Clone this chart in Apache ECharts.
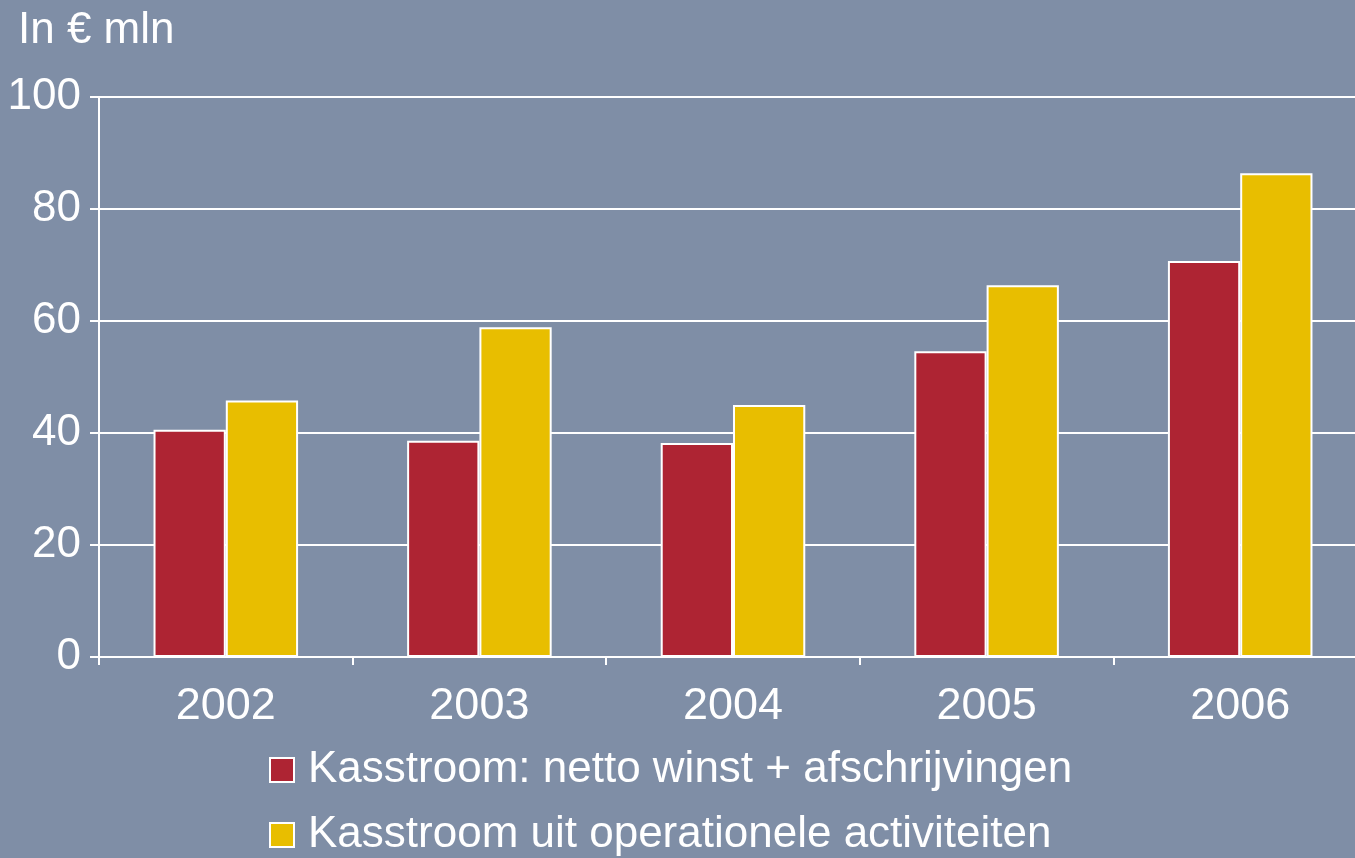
<!DOCTYPE html>
<html>
<head>
<meta charset="utf-8">
<script src="https://cdn.jsdelivr.net/npm/echarts@6/dist/echarts.min.js"></script>
<style>
  html, body { margin: 0; padding: 0; background: #7f8ea6; }
  #chart { width: 1355px; height: 858px; }
</style>
</head>
<body>
<div id="chart"></div>
<script>
var years = ['2002', '2003', '2004', '2005', '2006'];
var nettoWinst = [40.6, 38.6, 38.2, 54.6, 70.7];
var operationeel = [45.8, 58.9, 45.0, 66.4, 86.4];
var seriesNames = ['Kasstroom: netto winst + afschrijvingen', 'Kasstroom uit operationele activiteiten'];

var myChart = echarts.init(document.getElementById('chart'));
var font = 'Liberation Sans, Arial, sans-serif';
var fs = 44;

function legendRow(name, top) {
	return {
		left: 264,
		top: top,
		itemWidth: 24,
		itemHeight: 24,
		icon: 'rect',
		data: [name],
		itemStyle: { borderColor: '#fff', borderWidth: 2 },
		textStyle: { color: '#fff', fontSize: fs, fontFamily: font, padding: [0, 0, 0, 9] }
	};
}

option = {
	backgroundColor: '#7f8ea6',
	animation: false,
	title: {
		text: 'In € mln',
		left: 13,
		top: 4,
		textStyle: { color: '#fff', fontSize: fs, fontWeight: 'normal', fontFamily: font }
	},
	legend: [
		legendRow(seriesNames[0], 743),
		legendRow(seriesNames[1], 808)
	],
	grid: {
		left: 99,
		top: 97,
		width: 1268,
		height: 560,
		containLabel: false,
		outerBoundsMode: 'none'
	},
	xAxis: {
		type: 'category',
		data: years,
		axisLine: { lineStyle: { color: '#fff', width: 2 } },
		axisTick: { show: true, length: 8, lineStyle: { color: '#fff', width: 2 } },
		axisLabel: { color: '#fff', fontSize: 45, fontFamily: font, margin: 27 }
	},
	yAxis: {
		type: 'value',
		min: 0,
		max: 100,
		interval: 20,
		axisLine: { show: true, lineStyle: { color: '#fff', width: 2 } },
		axisTick: { show: true, length: 9, lineStyle: { color: '#fff', width: 2 } },
		axisLabel: { color: '#fff', fontSize: fs, fontFamily: font, margin: 18 },
		splitLine: { lineStyle: { color: '#fff', width: 2 } }
	},
	series: [
		{
			name: seriesNames[0],
			type: 'bar',
			barGap: '0%',
			barCategoryGap: '43%',
			itemStyle: { color: '#ae2433', borderColor: '#fff', borderWidth: 2 },
			data: nettoWinst
		},
		{
			name: seriesNames[1],
			type: 'bar',
			itemStyle: { color: '#e8be00', borderColor: '#fff', borderWidth: 2 },
			data: operationeel
		}
	]
};

myChart.setOption(option);
</script>
</body>
</html>
